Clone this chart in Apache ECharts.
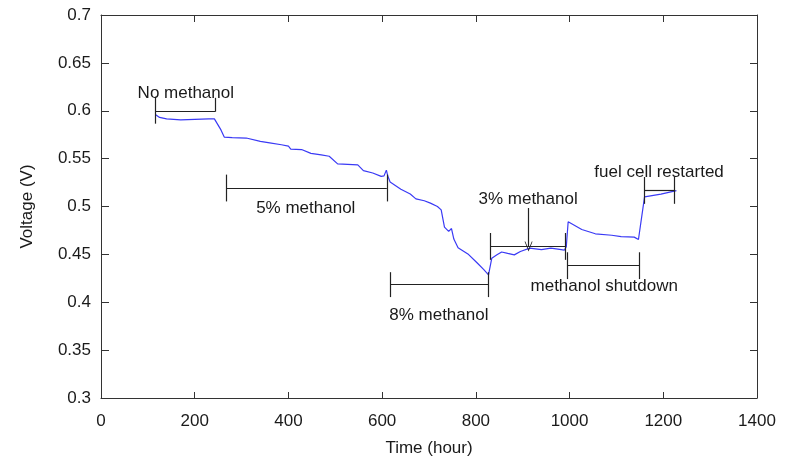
<!DOCTYPE html>
<html>
<head>
<meta charset="utf-8">
<script src="https://cdn.jsdelivr.net/npm/echarts@6/dist/echarts.min.js"></script>
<style>
  html, body { margin: 0; padding: 0; background: #fff; }
  #chart { width: 790px; height: 459px; }
</style>
</head>
<body>
<div id="chart"></div>
<script>
// Cell voltage over the test period (hours, volts)
const timeHours = [
  116, 125, 140, 170, 200, 230, 242, 256, 263, 280, 310, 340, 360, 385, 400, 405,
  428, 448, 470, 487, 505, 548, 560, 580, 598, 604, 609, 612, 617, 640, 660, 672,
  690, 703, 718, 726, 733, 742, 748, 753, 762, 783, 803, 817, 827, 830, 834, 845,
  855, 868, 882, 895, 915, 940, 960, 975, 989, 993, 997, 1026, 1055, 1090, 1110, 1125,
  1138, 1147, 1150, 1160, 1195, 1228
];
const voltage = [
  0.596, 0.593, 0.5915, 0.5905, 0.591, 0.5915, 0.5915, 0.580, 0.5725, 0.572, 0.5715, 0.568, 0.5665, 0.5645, 0.563, 0.560,
  0.5595, 0.5555, 0.554, 0.5525, 0.5445, 0.5435, 0.5375, 0.535, 0.5315, 0.532, 0.538, 0.532, 0.5255, 0.518, 0.513, 0.508,
  0.506, 0.5035, 0.500, 0.4965, 0.4785, 0.474, 0.477, 0.466, 0.457, 0.4505, 0.441, 0.434, 0.4285, 0.4285, 0.446, 0.4495,
  0.4525, 0.451, 0.4495, 0.453, 0.4565, 0.455, 0.4565, 0.4555, 0.4545, 0.458, 0.484, 0.476, 0.4715, 0.470, 0.4685, 0.4683,
  0.468, 0.4655, 0.466, 0.510, 0.513, 0.5165
];

// Operating phases: label, start hour, end hour, bracket level (V)
const phaseLabels = ['No methanol', '5% methanol', '8% methanol', '3% methanol', 'methanol shutdown', 'fuel cell restarted'];
const phaseStart = [116, 267, 617, 831, 994.5, 1159];
const phaseEnd   = [244, 610, 826, 991, 1149.5, 1224];
const phaseLevel = [0.599, 0.5193, 0.4184, 0.4583, 0.4382, 0.5168];
// End-tick extents above/below the bracket level (V): [startUp, startDown, endUp, endDown]
const phaseTicks = [
  [0.0155, 0.0125, 0.0145, 0],
  [0.014, 0.014, 0.014, 0.014],
  [0.013, 0.013, 0.013, 0.013],
  [0.014, 0.014, 0.014, 0.014],
  [0.014, 0.014, 0.014, 0.014],
  [0.014, 0.014, 0.014, 0.014]
];
// Label anchor for each phase (hour, V)
const labelTime = [181, 437, 721, 911.5, 1074, 1191];
const labelVolt = [0.618, 0.498, 0.3861, 0.5071, 0.4164, 0.5353];
// Pointer from the "3% methanol" label down to its bracket
const pointerTime = 912.5;
const pointerFrom = 0.4984;
const pointerTo = 0.4583;

const xTicks = { min: 0, max: 1400, interval: 200 };
const yTicks = { min: 0.3, max: 0.7, interval: 0.05 };

const textColor = '#1a1a1a';
const inkColor = '#222';
const fontFamily = 'Liberation Sans, Arial, sans-serif';

const curve = timeHours.map((t, i) => [t, voltage[i]]);

const bracketLines = [];
phaseLabels.forEach((name, i) => {
  const s = phaseStart[i], e = phaseEnd[i], v = phaseLevel[i], k = phaseTicks[i];
  bracketLines.push([{ coord: [s, v] }, { coord: [e, v] }]);
  bracketLines.push([{ coord: [s, v + k[0]] }, { coord: [s, v - k[1]] }]);
  bracketLines.push([{ coord: [e, v + k[2]] }, { coord: [e, v - k[3]] }]);
});

const labelPoints = phaseLabels.map((name, i) => ({ value: [labelTime[i], labelVolt[i]], name: name }));

function makeAxis(position, extra) {
  return Object.assign({
    type: 'value',
    position: position,
    axisLine: { show: true, onZero: false, lineStyle: { color: '#333', width: 1 } },
    axisTick: { show: true, inside: true, length: 7, lineStyle: { color: '#333', width: 1 } },
    splitLine: { show: false }
  }, extra);
}

const plainNumber = v => String(+v.toFixed(2));

const chart = echarts.init(document.getElementById('chart'), null, { renderer: 'canvas' });
chart.setOption({
  animation: false,
  backgroundColor: '#fff',
  textStyle: { fontFamily: fontFamily },
  grid: { left: 101, right: 33, top: 15, bottom: 61, containLabel: false, outerBoundsMode: 'none' },
  xAxis: [
    makeAxis('bottom', {
      min: xTicks.min, max: xTicks.max, interval: xTicks.interval,
      name: 'Time (hour)', nameLocation: 'middle', nameGap: 42,
      nameTextStyle: { color: textColor, fontSize: 17, fontFamily: fontFamily },
      axisTick: { show: true, inside: true, length: 6, lineStyle: { color: '#333', width: 1 } },
      axisLabel: { color: textColor, fontSize: 17, margin: 15, fontFamily: fontFamily, formatter: plainNumber }
    }),
    makeAxis('top', {
      min: xTicks.min, max: xTicks.max, interval: xTicks.interval,
      axisLabel: { show: false }
    })
  ],
  yAxis: [
    makeAxis('left', {
      min: yTicks.min, max: yTicks.max, interval: yTicks.interval,
      name: 'Voltage (V)', nameLocation: 'middle', nameGap: 65,
      nameTextStyle: { color: textColor, fontSize: 17, fontFamily: fontFamily },
      axisTick: { show: true, inside: true, length: 8, lineStyle: { color: '#333', width: 1 } },
      axisLabel: { color: textColor, fontSize: 17, margin: 10, fontFamily: fontFamily, formatter: plainNumber }
    }),
    makeAxis('right', {
      min: yTicks.min, max: yTicks.max, interval: yTicks.interval,
      axisLabel: { show: false }
    })
  ],
  series: [
    {
      name: 'Voltage',
      type: 'line',
      data: curve,
      showSymbol: false,
      symbol: 'none',
      lineStyle: { color: '#3a3af5', width: 1.2 },
      z: 3
    },
    {
      name: 'Phases',
      type: 'line',
      data: [],
      symbol: 'none',
      markLine: {
        silent: true,
        symbol: ['none', 'none'],
        label: { show: false },
        lineStyle: { color: inkColor, width: 1.2, type: 'solid' },
        emphasis: { disabled: true },
        data: bracketLines.concat([
          [
            { coord: [pointerTime, pointerFrom], symbol: 'none' },
            { coord: [pointerTime, pointerTo], symbol: 'path://M5,0 L10,11 L9,11 L5,2.5 L1,11 L0,11 Z', symbolSize: [8, 10] }
          ]
        ])
      },
      z: 4
    },
    {
      name: 'Labels',
      type: 'scatter',
      data: labelPoints,
      symbolSize: 0,
      silent: true,
      itemStyle: { opacity: 1 },
      label: {
        show: true,
        position: 'inside',
        formatter: p => p.name,
        color: textColor,
        opacity: 1,
        fontSize: 17,
        fontFamily: fontFamily
      },
      z: 5
    }
  ]
});
</script>
</body>
</html>
